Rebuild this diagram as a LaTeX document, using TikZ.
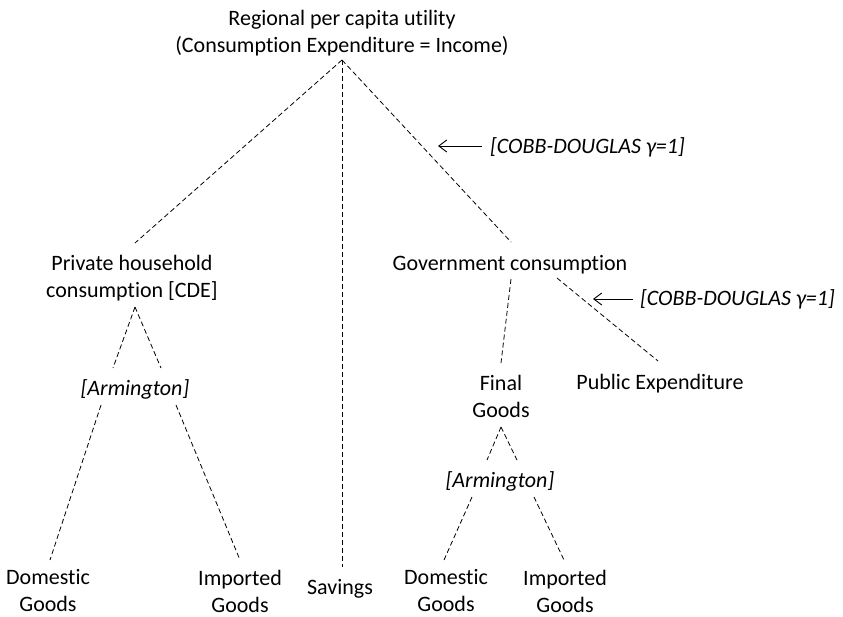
\documentclass[tikz,border=0pt]{standalone}
\usepackage{fontspec}
\setmainfont{Carlito}[Ligatures=NoCommon]
\usetikzlibrary{arrows.meta}
\begin{document}
\begin{tikzpicture}[x=1pt,y=-1pt,
  every node/.style={inner sep=0pt, align=center, font=\fontsize{22}{27}\selectfont},
  one/.style={text height=16pt, text depth=5pt},
  note/.style={one, anchor=west, font=\fontsize{22}{27}\selectfont\itshape},
  link/.style={draw=black, line width=0.8pt, dash pattern=on 5pt off 3pt},
  pointer/.style={draw=black, line width=0.9pt, -{Straight Barb[length=8pt,width=12pt]}}]
\useasboundingbox (0,0) rectangle (843,616);

% nodes of the utility tree
\node (top)  at (342,33)  {Regional per capita utility\\(Consumption Expenditure = Income)};
\node (priv) at (132,278) {Private household\\consumption [CDE]};
\node[one] (gov)  at (510,265) {Government consumption};
\node[one] (sav)  at (340,589) {Savings};
\node[one] (armL) at (135,390) {\itshape [Armington]};
\node (dom1) at (48,591)  {Domestic\\Goods};
\node (imp1) at (240,591) {Imported\\Goods};
\node (finl) at (501,396) {Final\\Goods};
\node[one] (pub)  at (660,384) {Public Expenditure};
\node[one] (armR) at (500,482) {\itshape [Armington]};
\node (dom2) at (446,591) {Domestic\\Goods};
\node (imp2) at (565,591) {Imported\\Goods};

% elasticity notes
\node[note] (cd1) at (490,148) {[COBB-DOUGLAS γ=1]};
\node[note] (cd2) at (640,300) {[COBB-DOUGLAS γ=1]};

% top level split
\coordinate (apex) at ([yshift=-27pt]top.center);
\draw[link] (apex) -- ([xshift=3pt,yshift=35pt]priv.center);
\draw[link] (apex) -- ([yshift=22pt]apex |- sav.center);
\draw[link] (apex) -- ([xshift=1pt,yshift=23pt]gov.center);

% private household branch
\draw[link] ([xshift=3pt,yshift=-29pt]priv.center) -- ([xshift=-22pt,yshift=22pt]armL.center);
\draw[link] ([xshift=3pt,yshift=-29pt]priv.center) -- ([xshift=26pt,yshift=22pt]armL.center);
\draw[link] ([xshift=-34pt,yshift=-15pt]armL.center) -- ([xshift=2pt,yshift=31pt]dom1.center);
\draw[link] ([xshift=41pt,yshift=-15pt]armL.center) -- ([yshift=31pt]imp1.center);

% government branch
\draw[link] ([xshift=1pt,yshift=-14pt]gov.center) -- ([yshift=33pt]finl.center);
\draw[link] ([xshift=47pt,yshift=-13pt]gov.center) -- ([xshift=-2pt,yshift=23pt]pub.center);
\draw[link] ([yshift=-31pt]finl.center) -- ([xshift=-13pt,yshift=22pt]armR.center);
\draw[link] ([yshift=-31pt]finl.center) -- ([xshift=17pt,yshift=22pt]armR.center);
\draw[link] ([xshift=-28pt,yshift=-15pt]armR.center) -- ([xshift=-2pt,yshift=31pt]dom2.center);
\draw[link] ([xshift=34pt,yshift=-15pt]armR.center) -- ([xshift=-1pt,yshift=31pt]imp2.center);

% arrows pointing at the Cobb-Douglas nests
\draw[pointer] ([xshift=-8pt,yshift=2pt]cd1.west) -- ([xshift=-52pt,yshift=2pt]cd1.west);
\draw[pointer] ([xshift=-7pt,yshift=1pt]cd2.west) -- ([xshift=-47pt,yshift=1pt]cd2.west);
\end{tikzpicture}
\end{document}
